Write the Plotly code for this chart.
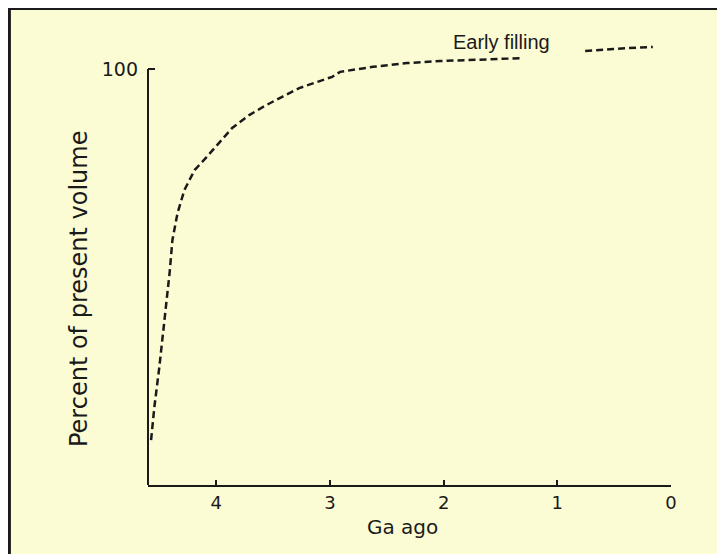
import plotly.graph_objects as go

# Data (Ga ago, percent of present volume)
ga_ago = [4.573, 4.544, 4.50, 4.473, 4.44, 4.41, 4.385, 4.34, 4.28, 4.19, 4.085,
          3.97, 3.86, 3.71, 3.56, 3.42, 3.27, 2.98, 2.91, 2.62, 2.32, 2.03, 1.74,
          1.50, 1.30, None, 0.755, 0.51, 0.16]
percent_volume = [10.8, 18.75, 28.4, 34.9, 42.8, 51.0, 58.9, 65.4, 70.9, 75.7, 78.8,
                  82.5, 85.8, 88.9, 91.3, 93.3, 95.4, 98.1, 99.3, 100.5, 101.4, 101.9,
                  102.2, 102.4, 102.6, None, 104.3, 104.8, 105.3]
x_ticks = [4, 3, 2, 1, 0]
y_ticks = [100]
series_label = "Early filling"
x_title = "Ga ago"
y_title = "Percent of present volume"

BG = "#FCFCD4"
INK = "#1a1a1a"
FONT = "DejaVu Sans"

fig = go.Figure()
fig.add_trace(go.Scatter(
    x=ga_ago, y=percent_volume, mode="lines",
    line=dict(color=INK, width=2.5, dash="7px,4px"),
    connectgaps=False, showlegend=False, hoverinfo="skip",
))

fig.update_layout(
    width=725, height=554,
    margin=dict(l=140, r=62, t=11, b=77),
    paper_bgcolor=BG, plot_bgcolor=BG,
    showlegend=False,
    font=dict(family=FONT, color=INK),
    xaxis=dict(
        range=[4.6, 0], tickvals=x_ticks, ticktext=[str(v) for v in x_ticks],
        showline=True, linecolor=INK, linewidth=2,
        ticks="inside", ticklen=5, tickwidth=2, tickcolor=INK,
        showgrid=False, zeroline=False,
        tickfont=dict(family=FONT, size=18, color=INK),
    ),
    yaxis=dict(
        range=[0, 112], tickvals=y_ticks, ticktext=[str(v) for v in y_ticks],
        showline=False,
        ticks="inside", ticklen=7, tickwidth=2, tickcolor=INK,
        showgrid=False, zeroline=False,
        tickfont=dict(family=FONT, size=19, color=INK),
        ticklabelstandoff=9,
    ),
    shapes=[
        # visible y-axis line from 0 to 100 %
        dict(type="line", xref="paper", yref="y", x0=0, x1=0, y0=0, y1=100,
             line=dict(color=INK, width=2)),
        # frame (top and left edges)
        dict(type="line", xref="paper", yref="paper", x0=-0.27, x1=1.2, y0=1.0225, y1=1.0225,
             line=dict(color=INK, width=3)),
        dict(type="line", xref="paper", yref="paper", x0=-0.265, x1=-0.265, y0=-0.2, y1=1.0225,
             line=dict(color=INK, width=3)),
    ],
    annotations=[
        dict(text=series_label, x=1.49, y=106.4, xref="x", yref="y", showarrow=False,
             font=dict(family="Liberation Sans", size=20, color=INK)),
        dict(text=x_title, x=0.4857, y=-0.0901, xref="paper", yref="paper", showarrow=False,
             xanchor="center", yanchor="middle",
             font=dict(family=FONT, size=20, color=INK)),
        dict(text=y_title, x=-0.1319, y=0.4206, xref="paper", yref="paper", showarrow=False,
             xanchor="center", yanchor="middle", textangle=-90,
             font=dict(family=FONT, size=24, color=INK)),
    ],
)

fig.write_html("out.html")
